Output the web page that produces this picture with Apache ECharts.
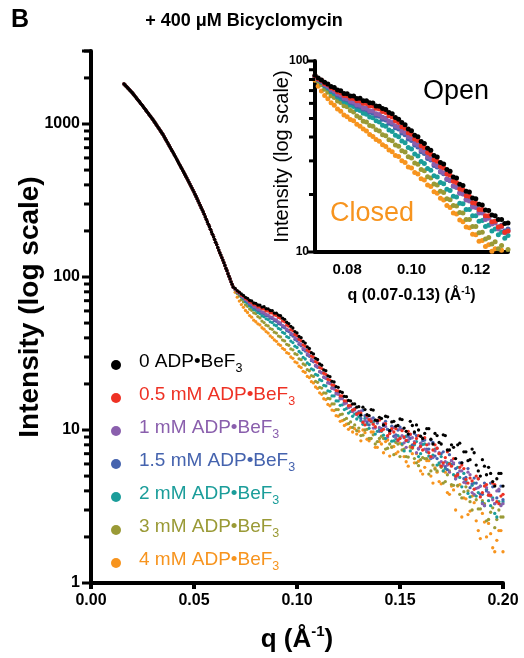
<!DOCTYPE html>
<html><head><meta charset="utf-8">
<script src="https://cdn.jsdelivr.net/npm/echarts@6/dist/echarts.min.js"></script>
<style>html,body{margin:0;padding:0;background:#fff}#c{width:524px;height:658px}</style>
</head><body><div id="c"></div>
<script>
const FONT = '"Liberation Sans", Arial, Helvetica, sans-serif';

const seriesNames = ['0 ADP•BeF3','0.5 mM ADP•BeF3','1 mM ADP•BeF3','1.5 mM ADP•BeF3','2 mM ADP•BeF3','3 mM ADP•BeF3','4 mM ADP•BeF3'];
const seriesColors = ['#000000','#ee3124','#8a5fad','#4563ae','#1b9d9a','#9a9a36','#f7941e'];

const mainXTicks = [0, 0.05, 0.10, 0.15, 0.20];
const mainYTicks = [1, 10, 100, 1000];
const insetXTicks = [0.08, 0.10, 0.12];
const insetYTicks = [10, 100];

// q grids (Å^-1)
const qLow = [0.016,0.017,0.018,0.019,0.020,0.021,0.022,0.023,0.024,0.025,0.026,0.027,0.028,0.029,0.030,0.031,0.032,0.033,0.034,0.035,0.036,0.037,0.038,0.039,0.040,0.041,0.042,0.043,0.044,0.045,0.046,0.047,0.048,0.049,0.050,0.051,0.052,0.053,0.054,0.055,0.056,0.057,0.058,0.059,0.060,0.061,0.062,0.063,0.064,0.065,0.066,0.067,0.068,0.069];
const qLow2 = [0.0165,0.0175,0.0185,0.0195,0.0205,0.0215,0.0225,0.0235,0.0245,0.0255,0.0265,0.0275,0.0285,0.0295,0.0305,0.0315,0.0325,0.0335,0.0345,0.0355,0.0365,0.0375,0.0385,0.0395,0.0405,0.0415,0.0425,0.0435,0.0445,0.0455,0.0465,0.0475,0.0485,0.0495,0.0505,0.0515,0.0525,0.0535,0.0545,0.0555,0.0565,0.0575,0.0585,0.0595,0.0605,0.0615,0.0625,0.0635,0.0645,0.0655,0.0665,0.0675,0.0685];
const qMid = [0.070,0.071,0.072,0.073,0.074,0.075,0.076,0.077,0.078,0.079,0.080,0.081,0.082,0.083,0.084,0.085,0.086,0.087,0.088,0.089,0.090,0.091,0.092,0.093,0.094,0.095,0.096,0.097,0.098,0.099,0.100,0.101,0.102,0.103,0.104,0.105,0.106,0.107,0.108,0.109,0.110,0.111,0.112,0.113,0.114,0.115,0.116,0.117,0.118,0.119,0.120,0.121,0.122,0.123,0.124,0.125,0.126,0.127,0.128,0.129,0.130];
const qHigh = [0.132,0.134,0.136,0.138,0.140,0.142,0.144,0.146,0.148,0.150,0.152,0.154,0.156,0.158,0.160,0.162,0.164,0.166,0.168,0.170,0.172,0.174,0.176,0.178,0.180,0.182,0.184,0.186,0.188,0.190,0.192,0.194,0.196,0.198,0.200];
const qHigh2 = [0.131,0.133,0.135,0.137,0.139,0.141,0.143,0.145,0.147,0.149,0.151,0.153,0.155,0.157,0.159,0.161,0.163,0.165,0.167,0.169,0.171,0.173,0.175,0.177,0.179,0.181,0.183,0.185,0.187,0.189,0.191,0.193,0.195,0.197,0.199];

// low-q region: all seven curves coincide
const iLowShared = [1828,1770,1714,1656,1603,1542,1483,1426,1371,1318,1265,1213,1164,1117,1072,1023,977,933,891,851,805,762,721,682,646,610,575,543,513,484,456,430,405,381,359,336,314,294,275,257,238,221,205,190,176,163,150,139,129,119,110,101,93,86];
const iLowShared2 = [1799,1742,1685,1629,1572,1512,1454,1398,1344,1291,1239,1188,1140,1094,1047,1000,955,912,871,828,783,741,701,664,628,592,559,528,498,470,443,417,393,370,347,325,304,284,266,247,229,213,197,183,169,156,144,134,124,114,105,97,89.5];

// mid-q (0.070-0.130)
const midBlack  = [84.1,81.5,79.6,77.4,75.8,73.6,72.6,70.4,69.8,67.6,67.3,65.6,65.5,63.6,63.9,62.0,61.9,60.4,60.2,58.1,58.0,56.4,55.8,53.8,52.9,50.6,49.6,47.6,46.4,44.0,43.1,40.9,40.1,37.9,37.0,34.9,34.1,32.0,31.4,29.4,28.9,27.0,26.5,24.7,24.4,22.6,22.3,20.8,20.6,19.2,19.0,17.8,17.6,16.6,16.5,15.6,15.5,14.8,14.8,14.1,14.2];
const midRed    = [83.6,80.6,79.2,76.0,75.0,72.4,71.3,69.0,68.1,66.0,65.7,63.8,63.6,61.9,61.8,60.0,59.9,58.3,58.1,56.5,56.1,54.4,53.8,51.7,50.9,48.6,47.7,45.3,44.5,42.1,41.3,39.1,38.3,36.0,35.3,33.2,32.5,30.4,29.9,28.0,27.5,25.6,25.2,23.5,23.1,21.4,21.2,19.7,19.6,18.1,18.0,16.7,16.7,15.5,15.5,14.4,14.5,13.5,13.7,12.7,12.9];
const midPurple = [83.2,80.2,78.3,75.3,73.8,71.1,69.7,67.3,66.3,64.1,63.5,61.6,61.0,59.1,58.6,56.9,56.6,54.9,54.7,53.0,52.5,50.8,50.2,48.3,47.6,45.7,45.0,43.0,42.1,40.1,39.2,37.1,36.3,34.2,33.5,31.5,30.8,28.9,28.3,26.5,25.9,24.2,23.7,22.2,21.8,20.3,20.1,18.7,18.5,17.2,17.1,16.0,16.0,14.8,15.0,14.0,14.2,13.2,13.5,12.6,12.9];
const midBlue   = [83.0,79.8,77.9,74.7,73.2,70.4,69.0,66.4,65.3,63.2,62.6,60.7,60.1,58.2,57.7,56.0,55.6,53.9,53.5,51.8,51.3,49.6,49.1,47.2,46.6,44.7,44.0,42.0,41.1,39.1,38.3,36.3,35.5,33.5,32.8,30.9,30.3,28.4,27.9,26.2,25.7,24.0,23.6,22.1,21.8,20.4,20.2,18.9,18.8,17.5,17.4,16.3,16.3,15.2,15.3,14.3,14.5,13.5,13.8,12.9,13.2];
const midTeal   = [82.8,79.5,77.4,73.9,71.9,69.0,67.4,64.7,63.4,61.3,60.6,58.6,57.7,55.8,55.0,53.3,52.7,50.9,50.4,48.6,48.0,46.1,45.5,43.5,42.8,40.8,40.1,38.1,37.3,35.3,34.6,32.6,31.8,29.8,29.1,27.4,26.8,25.1,24.7,23.1,22.8,21.3,21.0,19.6,19.4,18.0,17.9,16.7,16.7,15.5,15.5,14.5,14.6,13.6,13.8,12.9,13.2,12.3,12.7,11.8,12.2];
const midOlive  = [82.2,78.0,75.2,71.1,68.7,65.8,64.4,61.7,60.6,58.3,57.6,55.1,54.0,51.5,50.4,48.4,47.9,46.0,45.5,43.6,43.0,41.1,40.6,38.7,38.2,36.3,35.8,33.9,33.4,31.5,31.1,29.2,28.8,27.0,26.6,24.8,24.4,22.7,22.4,20.8,20.5,19.0,18.8,17.5,17.4,16.1,16.0,14.8,14.8,13.6,13.6,12.6,12.7,11.7,11.9,11.0,11.3,10.4,10.8,9.9,10.3];
const midOrange = [79.4,73.8,69.6,66.0,63.4,60.4,58.6,56.0,54.6,52.2,51.0,49.4,48.6,46.6,45.6,44.0,43.0,41.2,40.2,38.8,38.0,36.4,35.7,34.2,33.5,32.0,31.6,30.0,29.4,27.9,27.5,26.1,25.6,24.2,23.8,22.4,22.0,20.7,20.3,19.1,18.7,17.5,17.1,16.0,15.8,14.7,14.4,13.5,13.4,12.4,12.3,11.4,11.5,10.7,10.9,10.1,10.4,9.7,10.2,9.4,9.8];

// high-q, even steps (0.132-0.200)
const highBlack  = [14.1,12.6,13.6,11.6,12.1,10.8,12.2,11.3,10.6,11.8,10.3,9.4,10.7,10.8,9.1,9.5,10.2,8.1,9.2,8.1,9.2,7.4,7.7,8.0,6.1,7.2,6.4,7.1,5.4,6.4,5.1,5.2,4.3,5.2,4.3];
const highRed    = [11.2,12.4,11.4,10.5,11.6,10.1,9.2,10.2,10.2,8.8,9.0,9.8,7.7,8.8,7.8,8.9,7.1,7.4,7.6,5.8,6.6,6.0,6.5,5.1,5.9,4.75,4.85,4.1,4.8,3.9,4.4,3.75,4.4,3.3,3.8];
const highPurple = [11.3,12.0,11.8,10.3,10.4,11.0,9.0,10.0,9.0,10.1,8.25,8.6,8.9,7.1,8.2,7.5,8.1,6.6,7.6,6.2,6.2,5.3,6.1,5.0,5.4,4.5,5.1,3.8,4.2,3.3,4.2,3.7,3.3,4.1,3.3];
const highBlue   = [13.45,11.3,11.5,11.6,9.8,10.7,10.1,10.6,9.3,10.45,8.9,9.1,8.0,9.2,7.9,8.6,7.5,8.3,6.5,7.0,5.75,6.9,6.0,5.2,6.1,4.9,4.2,4.85,4.8,3.8,4.0,4.5,3.3,4.0,3.5];
const highTeal   = [10.9,10.9,11.3,9.4,10.2,9.25,10.1,8.45,8.75,8.9,7.3,8.4,7.8,8.4,7.0,8.1,6.75,6.85,5.9,6.7,5.6,6.05,5.1,5.7,4.25,4.65,3.65,4.5,3.9,3.35,4.1,3.2,2.85,3.4,3.4];
const highOlive  = [9.25,10.1,8.8,8.1,8.8,8.8,7.6,7.75,8.3,6.7,7.5,6.65,7.6,6.1,6.4,6.5,5.15,5.9,5.4,5.7,4.6,5.4,4.35,4.35,3.6,4.25,3.4,3.75,3.05,3.45,2.55,2.9,2.3,3.0,2.7];
const highOrange = [10.0,8.7,9.7,7.7,8.4,7.1,8.6,7.7,7.0,8.2,6.7,5.8,7.0,7.0,5.4,5.7,6.3,4.5,5.3,4.45,5.3,3.8,4.06,4.3,2.7,3.55,2.95,3.35,2.2,2.85,2.0,2.1,1.6,2.2,1.6];

// high-q, odd steps (0.131-0.199)
const high2Black  = [12.5,13.6,12.4,13.5,11.5,11.9,12.3,9.9,11.4,10.7,11.7,9.8,11.4,9.7,10.0,8.8,10.2,8.7,9.5,8.3,9.3,7.4,8.0,6.5,8.2,7.2,6.3,7.5,5.9,5.0,5.8,5.7,4.6,4.8,5.2];
const high2Red    = [12.9,10.8,11.7,10.9,11.6,9.9,11.0,9.5,9.7,8.6,9.9,8.55,9.4,8.2,9.2,7.4,8.0,6.7,8.0,7.0,6.1,7.2,5.8,5.0,5.7,5.6,4.5,4.65,5.0,3.65,4.3,3.75,4.5,3.4,3.7];
const high2Purple = [13.3,11.5,11.5,10.3,11.3,10.0,10.55,9.5,10.4,8.5,9.2,7.7,9.3,8.4,7.6,8.8,7.3,6.55,7.3,7.1,5.9,5.9,6.3,4.8,5.4,4.55,5.3,3.9,4.15,4.3,3.2,3.9,3.5,4.0,3.2];
const high2Blue   = [11.9,12.4,10.8,12.0,11.1,10.2,11.4,9.85,9.1,10.0,10.1,8.5,8.8,9.5,7.5,8.5,7.5,8.6,6.75,7.0,7.2,5.5,6.3,5.6,6.1,4.8,5.6,4.45,4.5,3.8,4.5,3.75,4.25,3.6,4.3];
const high2Teal   = [11.5,11.9,10.25,11.2,9.8,9.8,8.8,9.7,8.5,9.2,8.1,9.1,7.3,8.0,6.7,8.05,7.2,6.5,7.5,6.1,5.4,6.1,5.95,4.8,4.9,5.2,3.85,4.35,3.7,4.3,3.2,3.45,3.6,2.7,3.25];
const high2Olive  = [9.2,10.0,8.8,9.3,8.4,9.1,7.5,8.1,6.9,8.1,7.4,6.7,7.8,6.5,5.85,6.6,6.5,5.4,5.55,5.95,4.5,5.1,4.4,5.0,3.8,3.95,4.0,3.0,3.5,3.05,3.3,2.6,3.1,2.6,2.7];
const high2Orange = [8.5,9.6,8.5,9.7,7.7,8.1,8.4,6.75,7.8,7.2,8.0,6.2,7.7,6.1,6.25,5.15,6.3,5.0,5.65,4.6,5.4,3.9,4.3,3.0,4.4,3.6,2.8,3.7,2.55,1.95,2.5,2.45,1.7,1.9,2.2];

const midSets   = [midBlack, midRed, midPurple, midBlue, midTeal, midOlive, midOrange];
const highSets  = [highBlack, highRed, highPurple, highBlue, highTeal, highOlive, highOrange];
const high2Sets = [high2Black, high2Red, high2Purple, high2Blue, high2Teal, high2Olive, high2Orange];

const pairs = (qs, vs) => qs.map((q, i) => [q, vs[i]]);

const chart = echarts.init(document.getElementById('c'), null, {renderer: 'canvas'});

const series = [];
for (let k = seriesNames.length - 1; k >= 0; k--) {
  series.push({
    name: seriesNames[k], type: 'scatter', xAxisIndex: 0, yAxisIndex: 0,
    symbol: 'circle', symbolSize: 3.3, silent: true,
    itemStyle: {color: seriesColors[k], opacity: 1},
    emphasis: {disabled: true},
    data: pairs(qLow, iLowShared).concat(
      pairs(qLow2, iLowShared2),
      pairs(qMid, midSets[k]),
      pairs(qHigh2, high2Sets[k]),
      pairs(qHigh, highSets[k]))
  });
}
for (let k = seriesNames.length - 1; k >= 0; k--) {
  series.push({
    name: seriesNames[k], type: 'scatter', xAxisIndex: 1, yAxisIndex: 1,
    symbol: 'circle', symbolSize: 5, silent: true, clip: true,
    itemStyle: {color: seriesColors[k], opacity: 1},
    emphasis: {disabled: true},
    data: pairs(qMid, midSets[k])
  });
}

const legendData = seriesNames.map((n, k) => ({
  name: n,
  itemStyle: {color: seriesColors[k]},
  textStyle: {
    color: seriesColors[k],
    rich: {
      t: {fontSize: 19, fontFamily: FONT, color: seriesColors[k], padding: [0, 0, 4, 13], verticalAlign: 'bottom', lineHeight: 20},
      s: {fontSize: 12.5, fontFamily: FONT, color: seriesColors[k], verticalAlign: 'bottom', lineHeight: 12}
    }
  }
}));

const axisCommon = {
  splitLine: {show: false},
  axisLine: {show: true, onZero: false, lineStyle: {color: '#000', width: 4}},
};

const option = {
  animation: false,
  backgroundColor: '#ffffff',
  textStyle: {fontFamily: FONT},
  grid: [
    {left: 91, top: 51, width: 412, height: 532, outerBoundsMode: 'none'},
    {left: 315, top: 61, width: 193, height: 191, outerBoundsMode: 'none'}
  ],
  legend: {
    orient: 'vertical', left: 111, top: 352, padding: 0,
    itemWidth: 10, itemHeight: 10, itemGap: 10, icon: 'circle',
    selectedMode: false,
    data: legendData,
    formatter: name => '{t|' + name.slice(0, -1) + '}{s|3}'
  },
  xAxis: [
    Object.assign({}, axisCommon, {
      type: 'value', gridIndex: 0, min: 0, max: 0.2, interval: 0.05,
      axisTick: {show: true, length: 6, lineStyle: {color: '#000', width: 4}},
      axisLabel: {
        margin: 10, color: '#000', fontSize: 16, fontWeight: 'bold', fontFamily: FONT,
        showMinLabel: true, showMaxLabel: true,
        formatter: v => mainXTicks.some(t => Math.abs(t - v) < 1e-6) ? v.toFixed(2) : ''
      },
      name: '{a|q (Å}{b|-1}{a|)}', nameLocation: 'middle', nameGap: 40,
      nameTextStyle: {
        color: '#000',
        rich: {
          a: {fontSize: 26, fontWeight: 'bold', fontFamily: FONT, color: '#000', verticalAlign: 'bottom', lineHeight: 30},
          b: {fontSize: 15, fontWeight: 'bold', fontFamily: FONT, color: '#000', verticalAlign: 'bottom', lineHeight: 16, padding: [0, 0, 14, 0]}
        }
      }
    }),
    Object.assign({}, axisCommon, {
      type: 'value', gridIndex: 1, min: 0.07, max: 0.13, interval: 0.01,
      axisTick: {show: false},
      axisLabel: {
        margin: 10, color: '#000', fontSize: 15, fontWeight: 'bold', fontFamily: FONT,
        formatter: v => insetXTicks.some(t => Math.abs(t - v) < 1e-6) ? v.toFixed(2) : ''
      },
      name: '{a|q (0.07-0.13) (Å}{b|-1}{a|)}', nameLocation: 'middle', nameGap: 34,
      nameTextStyle: {
        color: '#000',
        rich: {
          a: {fontSize: 16, fontWeight: 'bold', fontFamily: FONT, color: '#000', verticalAlign: 'bottom', lineHeight: 18},
          b: {fontSize: 10, fontWeight: 'bold', fontFamily: FONT, color: '#000', verticalAlign: 'bottom', lineHeight: 10, padding: [0, 0, 8, 0]}
        }
      }
    })
  ],
  yAxis: [
    Object.assign({}, axisCommon, {
      type: 'log', logBase: 10, gridIndex: 0, min: 1, max: 3000,
      axisTick: {show: false},
      axisLabel: {
        margin: 11, color: '#000', fontSize: 16, fontWeight: 'bold', fontFamily: FONT,
        showMinLabel: true, showMaxLabel: true,
        formatter: v => mainYTicks.includes(Math.round(v)) ? String(Math.round(v)) : ''
      },
      name: 'Intensity (log scale)', nameLocation: 'middle', nameRotate: 90, nameGap: 47,
      nameMoveOverlap: false,
      nameTextStyle: {fontSize: 28, fontWeight: 'bold', fontFamily: FONT, color: '#000', padding: [0, 0, 0, 20]}
    }),
    Object.assign({}, axisCommon, {
      type: 'log', logBase: 10, gridIndex: 1, min: 10, max: 100,
      axisTick: {show: false},
      axisLabel: {
        margin: 6, color: '#000', fontSize: 12, fontWeight: 'bold', fontFamily: FONT,
        showMinLabel: true, showMaxLabel: true,
        formatter: v => insetYTicks.includes(Math.round(v)) ? String(Math.round(v)) : ''
      },
      name: 'Intensity (log scale)', nameLocation: 'middle', nameRotate: 90, nameGap: 23,
      nameMoveOverlap: false,
      nameTextStyle: {fontSize: 20, fontWeight: 'normal', fontFamily: FONT, color: '#000'}
    })
  ],
  series: series
};

chart.setOption(option);

// log-axis tick marks (major and minor) placed through the axis scale
const graphics = [];
function addTicks(yIdx, gridLeft, lo, hi, majLen, minLen) {
  for (let d = lo; d < hi; d *= 10) {
    for (let m = 1; m <= 9; m++) {
      const v = m * d;
      if (v > hi + 1e-9) break;
      const y = chart.convertToPixel({yAxisIndex: yIdx}, v);
      const len = (m === 1) ? majLen : minLen;
      graphics.push({type: 'rect', silent: true, z: 10,
        shape: {x: gridLeft - 2 - len, y: y - 1.5, width: len + 2, height: 3},
        style: {fill: '#000'}});
    }
  }
  const yTop = chart.convertToPixel({yAxisIndex: yIdx}, hi);
  graphics.push({type: 'rect', silent: true, z: 10,
    shape: {x: gridLeft - 2 - majLen, y: yTop - 1.5, width: majLen + 2, height: 3}, style: {fill: '#000'}});
}
addTicks(0, 91, 1, 3000, 7, 5);
addTicks(1, 315, 10, 100, 6, 4);

graphics.push(
  {type: 'text', x: 11, y: 8, silent: true,
   style: {text: 'B', fontSize: 25, fontWeight: 'bold', fontFamily: FONT, fill: '#000'}},
  {type: 'text', x: 244, y: 21, silent: true,
   style: {text: '+ 400 μM Bicyclomycin', fontSize: 18, fontWeight: 'bold', fontFamily: FONT, fill: '#000', align: 'center', verticalAlign: 'middle'}},
  {type: 'text', x: 423, y: 92, silent: true,
   style: {text: 'Open', fontSize: 27, fontFamily: FONT, fill: '#000', verticalAlign: 'middle'}},
  {type: 'text', x: 330, y: 214, silent: true,
   style: {text: 'Closed', fontSize: 27, fontFamily: FONT, fill: '#f7941e', verticalAlign: 'middle'}}
);

chart.setOption({graphic: graphics});
</script>
</body></html>
